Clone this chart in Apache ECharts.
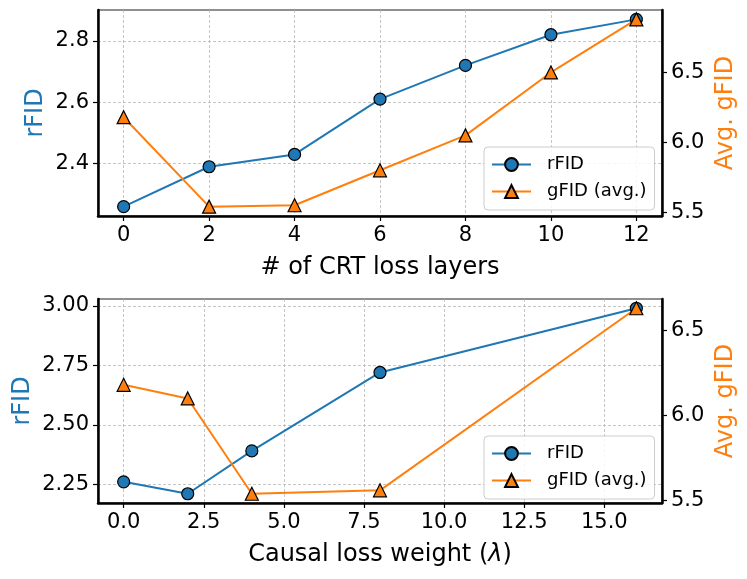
<!DOCTYPE html>
<html>
<head>
<meta charset="utf-8">
<script src="https://cdn.jsdelivr.net/npm/echarts@6/dist/echarts.min.js"></script>
<style>
html,body{margin:0;padding:0;background:#fff;}
#chart{width:747px;height:579px;}
</style>
</head>
<body>
<div id="chart"></div>
<script>
// Top panel: # of CRT loss layers
const crtLayers = [0, 2, 4, 6, 8, 10, 12];
const crtRFID = [2.26, 2.39, 2.43, 2.61, 2.72, 2.82, 2.87];
const crtGFID = [6.18, 5.54, 5.55, 5.80, 6.05, 6.50, 6.88];
const crtXTicks = [0, 2, 4, 6, 8, 10, 12];
const crtRFIDTicks = [2.4, 2.6, 2.8];
const crtGFIDTicks = [5.5, 6.0, 6.5];

// Bottom panel: causal loss weight
const causalWeight = [0, 2, 4, 8, 16];
const causalRFID = [2.26, 2.21, 2.39, 2.72, 2.99];
const causalGFID = [6.18, 6.10, 5.54, 5.56, 6.63];
const causalXTicks = [0, 2.5, 5, 7.5, 10, 12.5, 15];
const causalRFIDTicks = [2.25, 2.5, 2.75, 3.0];
const causalGFIDTicks = [5.5, 6.0, 6.5];

const BLUE = '#1f77b4', ORANGE = '#ff7f0e';
const FONT = 'DejaVu Sans';

function pad(arr) { // matplotlib-like 5% margins
  const mn = Math.min(...arr), mx = Math.max(...arr), r = mx - mn;
  return [mn - 0.05 * r, mx + 0.05 * r];
}
function zip(xs, ys) { return xs.map((x, i) => [x, ys[i]]); }

function xAxis(gi, ticks, dataX, name, dec, gap) {
  const [mn, mx] = pad(dataX);
  return {
    type: 'value', gridIndex: gi, min: mn, max: mx,
    name: name, nameLocation: 'middle', nameGap: gap, nameMoveOverlap: false,
    nameTextStyle: { fontFamily: FONT, fontSize: 24, color: '#000',
      rich: { i: { fontFamily: FONT, fontSize: 24, fontStyle: 'italic', color: '#000' } } },
    axisLine: { onZero: false, lineStyle: { color: '#000', width: 2.5 } },
    axisTick: { show: true, length: 5, customValues: ticks, lineStyle: { color: '#000', width: 1.2 } },
    axisLabel: { customValues: ticks, margin: 9, fontFamily: FONT, fontSize: 21, color: '#000',
      formatter: v => Number(v).toFixed(dec) },
    splitLine: { show: true, lineStyle: { color: '#b8b8b8', type: [3, 2], width: 0.8 } }
  };
}
function yAxis(gi, ticks, dataY, name, color, pos, dec, grid, gap) {
  const [mn, mx] = pad(dataY);
  return {
    type: 'value', gridIndex: gi, position: pos, min: mn, max: mx,
    name: name, nameLocation: 'middle', nameGap: gap, nameMoveOverlap: false,
    nameTextStyle: { fontFamily: FONT, fontSize: 24, color: color },
    axisLine: { show: true, onZero: false, lineStyle: { color: '#000', width: 2.5 } },
    axisTick: { show: true, length: 5, customValues: ticks, lineStyle: { color: '#000', width: 1.2 } },
    axisLabel: { customValues: ticks, margin: 9, fontFamily: FONT, fontSize: 21, color: '#000',
      formatter: v => Number(v).toFixed(dec) },
    splitLine: { show: grid, lineStyle: { color: '#b8b8b8', type: [3, 2], width: 0.8 } }
  };
}
function series(name, xi, yi, xs, ys, color, symbol, size) {
  return {
    name: name, type: 'line', xAxisIndex: xi, yAxisIndex: yi,
    data: zip(xs, ys), symbol: symbol, symbolSize: size,
    lineStyle: { color: color, width: 2 },
    itemStyle: { color: color, borderColor: '#000', borderWidth: 1.2 },
    emphasis: { disabled: true }, z: 3
  };
}
function legend(top) {
  return {
    data: ['rFID', 'gFID (avg.)'], orient: 'vertical', left: 484, top: top,
    padding: [7, 8, 8, 7],
    itemWidth: 39, itemHeight: 16, itemGap: 6,
    borderColor: '#cccccc', borderWidth: 1, borderRadius: 4,
    backgroundColor: 'rgba(255,255,255,0.85)',
    textStyle: { fontFamily: FONT, fontSize: 18, color: '#000', padding: [0, 0, 0, 11], lineHeight: 21 },
    selectedMode: false
  };
}

const chart = echarts.init(document.getElementById('chart'), null, { renderer: 'canvas' });
chart.setOption({
  animation: false,
  backgroundColor: '#fff',
  grid: [
    { left: 98, right: 85, top: 10, height: 206, show: true, borderColor: '#222', borderWidth: 1.2 },
    { left: 98, right: 85, top: 299, height: 204, show: true, borderColor: '#222', borderWidth: 1.2 }
  ],
  xAxis: [
    xAxis(0, crtXTicks, crtLayers, '# of CRT loss layers', 0, 40),
    xAxis(1, causalXTicks, causalWeight, 'Causal loss weight ({i|\u03BB})', 1, 40)
  ],
  yAxis: [
    yAxis(0, crtRFIDTicks, crtRFID, 'rFID', BLUE, 'left', 1, true, 50),
    yAxis(0, crtGFIDTicks, crtGFID, 'Avg. gFID', ORANGE, 'right', 1, false, 52),
    yAxis(1, causalRFIDTicks, causalRFID, 'rFID', BLUE, 'left', 2, true, 63),
    yAxis(1, causalGFIDTicks, causalGFID, 'Avg. gFID', ORANGE, 'right', 1, false, 52)
  ],
  legend: [legend(147), legend(436)],
  series: [
    series('rFID', 0, 0, crtLayers, crtRFID, BLUE, 'circle', 12),
    series('gFID (avg.)', 0, 1, crtLayers, crtGFID, ORANGE, 'triangle', 13),
    series('rFID', 1, 2, causalWeight, causalRFID, BLUE, 'circle', 12),
    series('gFID (avg.)', 1, 3, causalWeight, causalGFID, ORANGE, 'triangle', 13)
  ]
});
</script>
</body>
</html>
